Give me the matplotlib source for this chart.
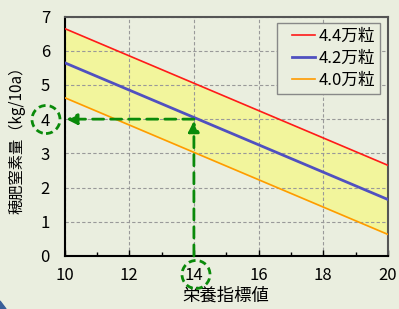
import numpy as np
import matplotlib
matplotlib.use("Agg")
from matplotlib import pyplot as plt
from matplotlib.patches import Ellipse, Polygon
from matplotlib.legend_handler import HandlerLine2D

plt.rcParams['font.family'] = ['Noto Sans CJK JP', 'DejaVu Sans']

# data
x_vals = [10, 20]
red_vals = [6.65, 2.65]     # 4.4万粒
blue_vals = [5.65, 1.65]    # 4.2万粒
orange_vals = [4.63, 0.63]  # 4.0万粒
labels = ['4.4万粒', '4.2万粒', '4.0万粒']
x_ticks = [10, 12, 14, 16, 18, 20]
y_ticks = [0, 1, 2, 3, 4, 5, 6, 7]
target_x = 14
target_y = 4

bg = '#eaeedf'
W, H = 399, 309
fig = plt.figure(figsize=(W/100, H/100), dpi=100, facecolor=bg)
ax = fig.add_axes([64.5/W, 1-256/H, (388-64.5)/W, (256-16.5)/H])
ax.set_facecolor(bg)

ax.fill_between(x_vals, orange_vals, red_vals, color='#f2f59c', zorder=1)
l1, = ax.plot(x_vals, red_vals, color='#ff1a1a', lw=1.2, label=labels[0], zorder=3)
l2, = ax.plot(x_vals, blue_vals, color='#5050c0', lw=2.0, label=labels[1], zorder=3)
l3, = ax.plot(x_vals, orange_vals, color='#ff9a00', lw=1.2, label=labels[2], zorder=3)

ax.set_xlim(10, 20)
ax.set_ylim(0, 7)
ax.set_xticks(x_ticks)
ax.set_yticks(y_ticks)
ax.set_xticks(np.arange(11, 20, 2), minor=True)
ax.tick_params(direction='in', length=4, width=1, labelsize=12)
ax.tick_params(axis='x', pad=8)
ax.tick_params(axis='y', length=0, pad=10.5)
ax.tick_params(which='minor', direction='in', length=3, width=1)
ax.grid(True, color='#999999', ls=(0, (3, 2)), lw=0.8, zorder=0)

for s in ['left', 'bottom']:
    ax.spines[s].set_color('black')
    ax.spines[s].set_linewidth(1.5)
for s in ['top', 'right']:
    ax.spines[s].set_color('#555555')
    ax.spines[s].set_linewidth(1.5)

ax.set_xlabel('栄養指標値', fontsize=12.5)
ax.xaxis.set_label_coords(0.5, -(287-256)/(256-16.5))
ax.set_ylabel('穂肥窒素量（kg/10a）', fontsize=11)
ax.yaxis.set_label_coords(-(64.5-26)/(388-64.5), 0.5)

hm = {l: HandlerLine2D(xpad=0.6) for l in (l1, l2, l3)}
leg = ax.legend(handler_map=hm, loc='upper right',
                bbox_to_anchor=(1-(388-380)/323.5, 1-(23-16.5)/239.5),
                fontsize=12, frameon=True, fancybox=False, edgecolor='#888888',
                facecolor=bg, framealpha=1, handlelength=2.0, handletextpad=0.2,
                borderpad=0.3, labelspacing=0.3, borderaxespad=0)
leg.get_frame().set_linewidth(1.0)

# green dashed guide arrows
green = '#0a8a0a'
ax.annotate('', xy=(10.05, target_y), xytext=(target_x, target_y),
            arrowprops=dict(arrowstyle='-|>', color=green, lw=2, ls=(0, (4, 2.5)),
                            mutation_scale=16, shrinkA=0, shrinkB=0), zorder=5)
ax.annotate('', xy=(target_x, target_y - 0.05), xytext=(target_x, 0),
            arrowprops=dict(arrowstyle='-|>', color=green, lw=2, ls=(0, (4, 2.5)),
                            mutation_scale=16, shrinkA=0, shrinkB=0), zorder=5)

# dashed circles around the read values
fig.patches.append(Ellipse((46/W, 1-119.5/H), 28/W, 28/H, transform=fig.transFigure,
                           fill=False, ec=green, lw=2, ls=(0, (2.5, 1.5))))
fig.patches.append(Ellipse((196/W, 1-274.5/H), 28/W, 28/H, transform=fig.transFigure,
                           fill=False, ec=green, lw=2, ls=(0, (2.5, 1.5))))

# corner decoration
fig.patches.append(Polygon([(0, 0), (0, 8/H), (6/W, 0)], closed=True,
                           transform=fig.transFigure, color='#3a5f9a'))

fig.savefig('out.png', dpi=100, facecolor=bg)
